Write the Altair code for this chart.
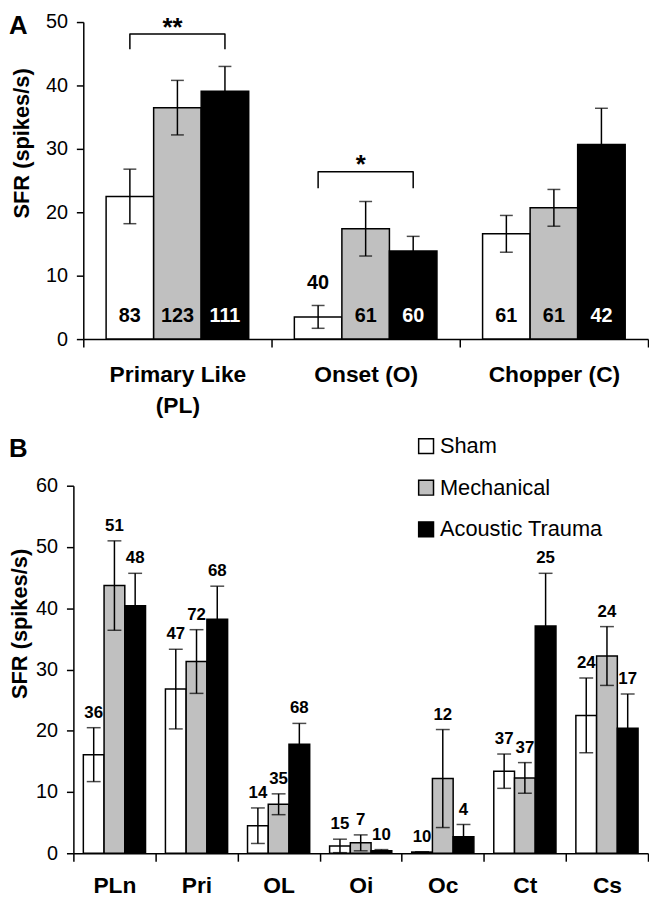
import altair as alt
import pandas as pd

GROUPS = ["Sham", "Mechanical", "Acoustic Trauma"]
FILLS = ["white", "#c0c0c0", "black"]

# ---- Panel A ----
A_CATS = ["Primary Like (PL)", "Onset (O)", "Chopper (C)"]
A_MEAN = {"Sham": [22.5, 3.5, 16.6],
          "Mechanical": [36.5, 17.4, 20.7],
          "Acoustic Trauma": [39.1, 13.9, 30.7]}
A_SEM = {"Sham": [4.3, 1.8, 2.9],
         "Mechanical": [4.3, 4.3, 2.9],
         "Acoustic Trauma": [3.9, 2.3, 5.7]}
A_N = {"Sham": [83, 40, 61],
       "Mechanical": [123, 61, 61],
       "Acoustic Trauma": [111, 60, 42]}

SIG_CAT = ["Primary Like (PL)", "Onset (O)"]
SIG_TEXT = ["**", "*"]
SIG_TOP = [48.1, 26.4]
SIG_END = [45.7, 23.8]

# ---- Panel B ----
B_CATS = ["PLn", "Pri", "OL", "Oi", "Oc", "Ct", "Cs"]
B_MEAN = {"Sham": [16.1, 26.8, 4.5, 1.2, 0.2, 13.4, 22.5],
          "Mechanical": [43.7, 31.3, 8.0, 1.7, 12.2, 12.3, 32.2],
          "Acoustic Trauma": [40.4, 38.2, 17.8, 0.4, 2.7, 37.1, 20.4]}
B_SEM = {"Sham": [4.4, 6.5, 2.9, 1.1, 0.0, 2.8, 6.1],
         "Mechanical": [7.3, 5.2, 1.7, 1.3, 8.0, 2.5, 4.8],
         "Acoustic Trauma": [5.3, 5.4, 3.4, 0.2, 2.0, 8.6, 5.6]}
B_N = {"Sham": [36, 47, 14, 15, 10, 37, 24],
       "Mechanical": [51, 72, 35, 7, 12, 37, 24],
       "Acoustic Trauma": [48, 68, 68, 10, 4, 25, 17]}

FONT = "Liberation Sans"


def long_df(cats, means, sems, ns):
    rows = []
    for g in GROUPS:
        for i, c in enumerate(cats):
            m, s = means[g][i], sems[g][i]
            rows.append(dict(cat=c, group=g, mean=m, lo=max(m - s, 0), hi=m + s, n=ns[g][i]))
    return pd.DataFrame(rows)


dfA = long_df(A_CATS, A_MEAN, A_SEM, A_N)
dfA["label_y"] = [3.7 if m > 8 else h + 3.6 for m, h in zip(dfA["mean"], dfA["hi"])]
dfB = long_df(B_CATS, B_MEAN, B_SEM, B_N)

br_rows = []
for k, (c, t, e) in enumerate(zip(SIG_CAT, SIG_TOP, SIG_END)):
    br_rows += [dict(b=k, o=0, cat=c, group="Sham", y=e),
                dict(b=k, o=1, cat=c, group="Sham", y=t),
                dict(b=k, o=2, cat=c, group="Acoustic Trauma", y=t),
                dict(b=k, o=3, cat=c, group="Acoustic Trauma", y=e)]
dfBr = pd.DataFrame(br_rows)
dfStar = pd.DataFrame(dict(cat=SIG_CAT, group=["Mechanical"] * 2, txt=SIG_TEXT,
                           y=[t + 3.0 for t in SIG_TOP]))

fill_scale = alt.Scale(domain=GROUPS, range=FILLS)
off_scale = alt.Scale(domain=GROUPS, paddingInner=0, paddingOuter=0.48)

# ================= Panel A =================
HA = 320
xA = alt.X("cat:N", sort=A_CATS,
           scale=alt.Scale(paddingInner=0, paddingOuter=0, range=[10, 580]),
           axis=alt.Axis(title=None, labelAngle=0, tickBand="extent", tickSize=8,
                         labelFontSize=23, labelFontWeight="bold", labelPadding=17,
                         labelLineHeight=31,
                         labelExpr="datum.label == 'Primary Like (PL)' ? ['Primary Like', '(PL)'] : datum.label"))
xoA = alt.XOffset("group:N", sort=GROUPS, scale=off_scale)
yA = alt.Y("mean:Q", scale=alt.Scale(domain=[0, 50]),
           axis=alt.Axis(values=[0, 10, 20, 30, 40, 50], title="SFR (spikes/s)", grid=False,
                         offset=-10, tickSize=7, labelFontSize=20, labelPadding=9,
                         titleFontSize=22, titleFontWeight="bold", titlePadding=12, titleY=122))

baseA = alt.Chart(dfA).encode(x=xA, xOffset=xoA)
barsA = baseA.mark_bar(stroke="black", strokeWidth=1.5).encode(
    y=yA, fill=alt.Fill("group:N", scale=fill_scale, legend=None))
errA = baseA.mark_rule(color="black", strokeWidth=1.5).encode(y="lo:Q", y2="hi:Q")
capHiA = baseA.mark_tick(color="black", thickness=1.5, size=13, orient="horizontal").encode(y="hi:Q")
capLoA = baseA.mark_tick(color="black", thickness=1.5, size=13, orient="horizontal").encode(y="lo:Q")
nA = baseA.mark_text(font=FONT, fontSize=20, fontWeight="bold", baseline="middle").encode(
    y="label_y:Q", text="n:Q",
    color=alt.condition("datum.group == 'Acoustic Trauma'", alt.value("white"), alt.value("black")))
brA = alt.Chart(dfBr).mark_line(color="black", strokeWidth=1.5, strokeJoin="round", clip=False).encode(
    x=alt.X("cat:N", sort=A_CATS), xOffset=alt.XOffset("group:N", sort=GROUPS),
    y="y:Q", detail="b:N", order="o:Q")
starA = alt.Chart(dfStar).mark_text(font=FONT, fontSize=26, fontWeight="bold", baseline="top", dx=-5).encode(
    x=alt.X("cat:N", sort=A_CATS), xOffset=alt.XOffset("group:N", sort=GROUPS),
    y="y:Q", text="txt:N")
letterA = alt.Chart(pd.DataFrame({"t": ["A"]})).mark_text(
    font=FONT, fontSize=26, fontWeight="bold", align="left", baseline="top").encode(
    text="t:N", x=alt.value(-65), y=alt.value(-9))

chartA = alt.layer(barsA, errA, capHiA, capLoA, nA, brA, starA, letterA).properties(width=580, height=HA)

# ================= Panel B =================
xB = alt.X("cat:N", sort=B_CATS,
           scale=alt.Scale(paddingInner=0, paddingOuter=0),
           axis=alt.Axis(title=None, labelAngle=0, tickBand="extent", tickSize=8,
                         labelFontSize=23, labelFontWeight="bold", labelPadding=14))
xoB = alt.XOffset("group:N", sort=GROUPS, scale=off_scale)
yB = alt.Y("mean:Q", scale=alt.Scale(domain=[0, 60]),
           axis=alt.Axis(values=[0, 10, 20, 30, 40, 50, 60], title="SFR (spikes/s)", grid=False,
                         tickSize=7, labelFontSize=20, labelPadding=9,
                         titleFontSize=22, titleFontWeight="bold", titlePadding=4, titleY=139))

baseB = alt.Chart(dfB).encode(x=xB, xOffset=xoB)
barsB = baseB.mark_bar(stroke="black", strokeWidth=1.5).encode(
    y=yB,
    fill=alt.Fill("group:N", scale=fill_scale,
                  legend=alt.Legend(title=None, orient="none", legendX=345, legendY=-51,
                                    symbolType="square", symbolSize=225,
                                    symbolStrokeColor="black", symbolStrokeWidth=1.5,
                                    symbolOpacity=1, labelFontSize=22, labelFont=FONT,
                                    labelLimit=400, labelColor="black",
                                    labelOffset=3, rowPadding=20, padding=0)))
errB = baseB.mark_rule(color="black", strokeWidth=1.5).encode(y="lo:Q", y2="hi:Q")
capHiB = baseB.mark_tick(color="black", thickness=1.5, size=14, orient="horizontal").encode(y="hi:Q")
capLoB = baseB.mark_tick(color="black", thickness=1.5, size=14, orient="horizontal").encode(y="lo:Q")
nB = baseB.mark_text(font=FONT, fontSize=17, fontWeight="bold", baseline="middle", dy=-15,
                     color="black").encode(y="hi:Q", text="n:Q")
letterB = alt.Chart(pd.DataFrame({"t": ["B"]})).mark_text(
    font=FONT, fontSize=26, fontWeight="bold", align="left", baseline="alphabetic").encode(
    text="t:N", x=alt.value(-65), y=alt.value(-29))

chartB = alt.layer(barsB, errB, capHiB, capLoB, nB, letterB).properties(width=580, height=371)

chart = alt.vconcat(chartA, chartB, spacing=18).resolve_scale(
    fill="independent", x="independent", xOffset="independent", y="independent"
).resolve_legend(fill="independent").properties(padding=0).configure_view(stroke=None).configure_axis(
    domainColor="black", tickColor="black", labelColor="black", titleColor="black",
    domainWidth=1.5, tickWidth=1.5, labelFont=FONT, titleFont=FONT
).configure_text(font=FONT)

chart.save("out.html", embed_options={"renderer": "svg", "actions": False})
